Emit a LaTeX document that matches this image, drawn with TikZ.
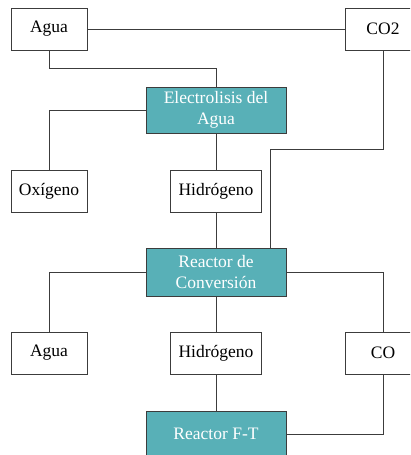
\documentclass[tikz,border=0pt]{standalone}
\usepackage{fontspec}
\setmainfont{Liberation Serif}
\definecolor{tealbox}{RGB}{88,176,183}
\definecolor{edge}{RGB}{60,60,60}
\begin{document}
\begin{tikzpicture}[x=1pt,y=-1pt,
  box/.style={draw=edge,line width=0.9pt,fill=white,minimum height=42pt,inner sep=0pt,font=\fontsize{17.5}{20}\selectfont},
  proc/.style={draw=edge,line width=0.9pt,fill=tealbox,text=white,minimum width=140pt,inner sep=0pt,align=center,font=\fontsize{17.5}{21}\selectfont},
  link/.style={draw=edge,line width=0.8pt}]
\useasboundingbox (0,0) rectangle (410,455);
\clip (0,0) rectangle (410,455);
\node[box,minimum width=76pt] (agua1) at (49,29) {Agua};
\node[box,minimum width=76pt] (co2) at (383,29) {CO2};
\node[proc,minimum height=46pt] (elec) at (216,110) {Electrolisis del\\Agua};
\node[box,minimum width=76pt] (oxi) at (49,191) {Oxígeno};
\node[box,minimum width=91pt] (hid1) at (216,191) {Hidrógeno};
\node[proc,minimum height=48pt] (reac) at (216,272) {Reactor de\\Conversión};
\node[box,minimum width=76pt] (agua2) at (49,353) {Agua};
\node[box,minimum width=91pt] (hid2) at (216,353) {Hidrógeno};
\node[box,minimum width=76pt] (co) at (383,353) {CO};
\node[proc,minimum height=46pt] (ft) at (216,434) {Reactor F-T};
\coordinate (j1) at (216,68);
\coordinate (j2) at (270,149);
\draw[link] (agua1.east) -- (co2.west);
\draw[link] (agua1.south) |- (j1) -- (elec.north);
\draw[link] (elec.west) -| (oxi.north);
\draw[link] (elec.south) -- (hid1.north);
\draw[link] (co2.south) |- (j2) -- (j2 |- reac.north);
\draw[link] (hid1.south) -- (reac.north);
\draw[link] (reac.west) -| (agua2.north);
\draw[link] (reac.east) -| (co.north);
\draw[link] (reac.south) -- (hid2.north);
\draw[link] (hid2.south) -- (ft.north);
\draw[link] (co.south) |- (ft.east);
\end{tikzpicture}
\end{document}
